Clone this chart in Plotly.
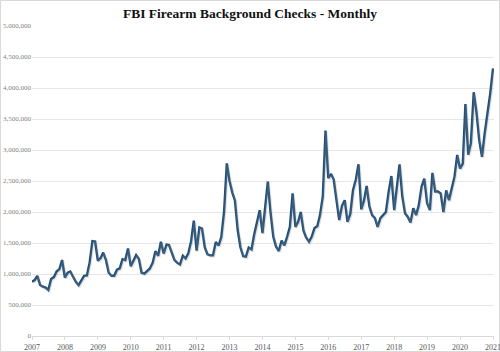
import plotly.graph_objects as go
import pandas as pd

dates = pd.date_range("2007-01-01", "2021-01-01", freq="MS")

checks = [
    # 2007
    876000, 903000, 968000, 823000, 795000, 780000, 742000, 919000, 950000, 1040000, 1080000, 1225000,
    # 2008
    942556, 1021130, 1040863, 940961, 872593, 819424, 891070, 970471, 977741, 1183279, 1529635, 1523426,
    # 2009
    1213885, 1259078, 1345096, 1223514, 1020317, 971413, 971639, 1070225, 1090885, 1238967, 1224285, 1412838,
    # 2010
    1123895, 1234184, 1303859, 1241897, 1019800, 1006084, 1054800, 1089347, 1181950, 1368347, 1293813, 1521496,
    # 2011
    1329059, 1474913, 1465856, 1354187, 1223436, 1178911, 1152349, 1294286, 1250856, 1331718, 1529591, 1862327,
    # 2012
    1377301, 1749903, 1731616, 1427189, 1316755, 1300463, 1300000, 1514549, 1457658, 1595263, 2006919, 2783765,
    # 2013
    2495440, 2309393, 2185773, 1709193, 1431261, 1285864, 1278949, 1425669, 1395422, 1636625, 1860017, 2030000,
    # 2014
    1660355, 2090000, 2490000, 1980000, 1600000, 1440000, 1370000, 1540000, 1460000, 1600000, 1760000, 2300000,
    # 2015
    1760000, 1840000, 2000000, 1700000, 1585000, 1520000, 1600000, 1740000, 1770000, 1950000, 2250000, 3314594,
    # 2016
    2545802, 2613074, 2523455, 2190000, 1870000, 2100000, 2190000, 1840000, 1970000, 2350000, 2520000, 2771000,
    # 2017
    2043184, 2190000, 2420000, 2090000, 1950000, 1900000, 1760000, 1900000, 1950000, 2000000, 2330000, 2580000,
    # 2018
    2030000, 2380000, 2767000, 2250000, 1980000, 1920000, 1830000, 2060000, 1950000, 2110000, 2410000, 2540000,
    # 2019
    2140000, 2030000, 2630000, 2330000, 2330000, 2300000, 2000000, 2350000, 2190000, 2380000, 2570000, 2920000,
    # 2020
    2700000, 2780000, 3740688, 2924000, 3110000, 3931607, 3620000, 3160000, 2890000, 3270000, 3590000, 3910000,
    # 2021
    4317804,
]

title_text = "FBI Firearm Background Checks - Monthly"
year_ticks = [f"{y}-01-01" for y in range(2007, 2022)]
year_labels = [str(y) for y in range(2007, 2022)]
y_ticks = [0, 500000, 1000000, 1500000, 2000000, 2500000, 3000000, 3500000, 4000000, 4500000, 5000000]
y_labels = ["0"] + [f"{v:,}" for v in y_ticks[1:]]

W, H = 500, 352
L, R, T, B = 32, 6, 26, 16
pw = W - L - R
ph = H - T - B

x0 = pd.Timestamp("2007-01-01")
x1 = pd.Timestamp("2021-01-01") + pd.Timedelta(days=11)
span = x1 - x0
dx = span * (1.0 / pw)
ymax = 5000000
dy = ymax * (1.2 / ph)

fig = go.Figure()

# soft shadow (same data, drawn on axes shifted a little down-right)
fig.add_trace(go.Scatter(
    x=dates, y=checks, mode="lines",
    line=dict(color="rgba(140,140,140,0.25)", width=2.4),
    xaxis="x2", yaxis="y2", hoverinfo="skip", showlegend=False,
))
fig.add_trace(go.Scatter(
    x=dates, y=checks, mode="lines",
    line=dict(color="#1f4e79", width=2.4),
    showlegend=False,
))

font_family = "Liberation Serif, DejaVu Serif, serif"

fig.update_layout(
    width=W, height=H,
    margin=dict(l=L, r=R, t=T, b=B, autoexpand=False),
    paper_bgcolor="white", plot_bgcolor="white",
    title=dict(text=f"<b>{title_text}</b>", x=0.5, xanchor="center",
               y=1 - 13 / H, yanchor="middle",
               font=dict(family=font_family, size=13.5, color="#111111")),
    xaxis=dict(
        type="date", range=[x0, x1], automargin=False,
        tickvals=year_ticks, ticktext=year_labels,
        showgrid=False, zeroline=False,
        showline=True, linecolor="#d9d9d9", linewidth=1,
        ticks="outside", ticklen=3, tickcolor="#d9d9d9",
        ticklabeloverflow="allow",
        tickfont=dict(family=font_family, size=8, color="#595959"),
    ),
    yaxis=dict(
        range=[0, ymax], tickvals=y_ticks, ticktext=y_labels, automargin=False,
        showgrid=True, gridcolor="#e6e6e6", gridwidth=1,
        zeroline=False, showline=False, ticks="",
        tickfont=dict(family=font_family, size=7, color="#7f7f7f"),
    ),
    xaxis2=dict(type="date", range=[x0 - dx, x1 - dx], overlaying="x",
                visible=False),
    yaxis2=dict(range=[dy, ymax + dy], overlaying="y", visible=False),
    shapes=[dict(type="rect", xref="paper", yref="paper",
                 x0=-L / pw + 0.5 / pw, x1=1 + (R - 0.5) / pw,
                 y0=-B / ph + 0.5 / ph, y1=1 + (T - 0.5) / ph,
                 line=dict(color="#d9d9d9", width=1), layer="below")],
)

fig.write_html("out.html")
